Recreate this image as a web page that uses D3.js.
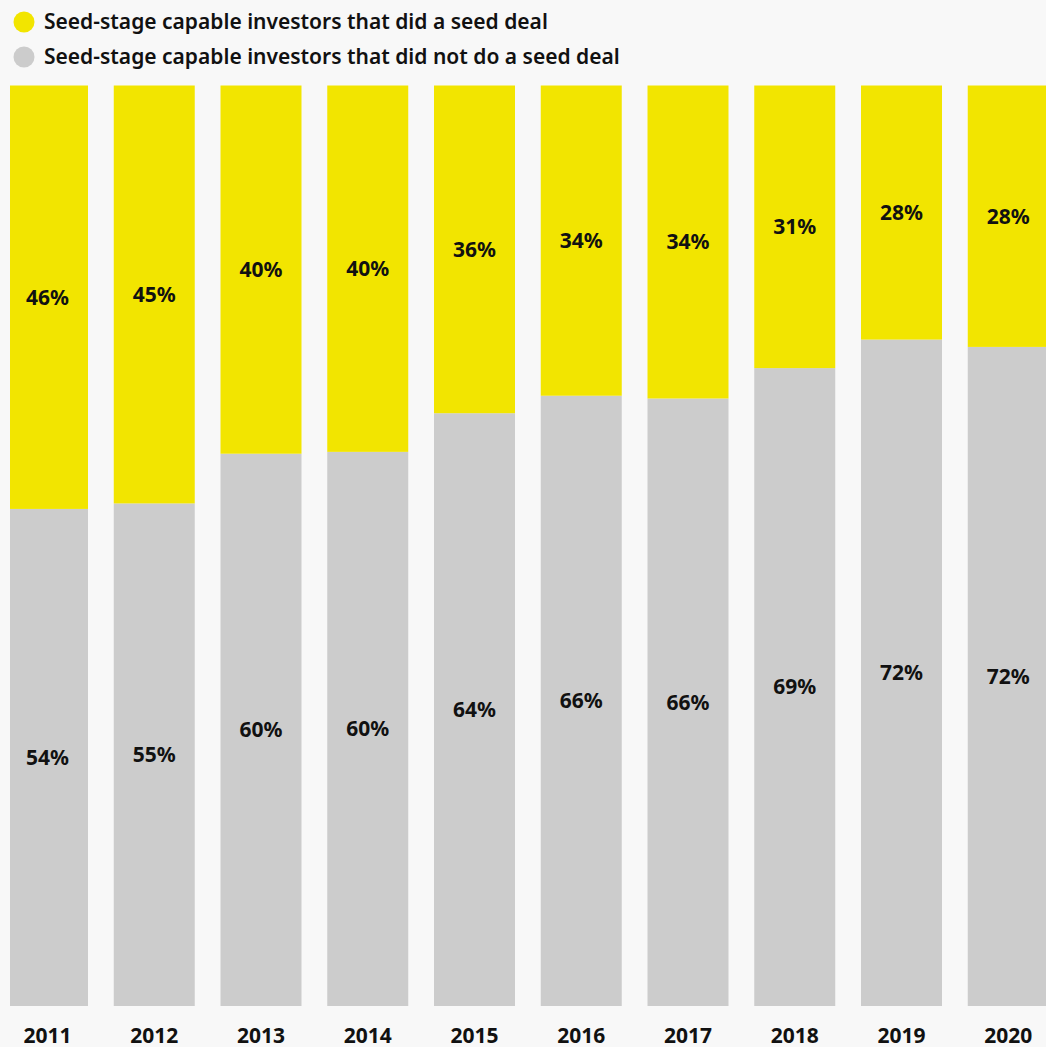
<!DOCTYPE html>
<html>
<head>
<meta charset="utf-8">
<script src="https://cdn.jsdelivr.net/npm/d3@7"></script>
<style>
  html, body { margin: 0; padding: 0; background: #f8f8f8; }
  svg { display: block; font-family: "Noto Sans", "Open Sans", sans-serif; }
</style>
</head>
<body>
<div id="chart"></div>
<script>
const years = ["2011", "2012", "2013", "2014", "2015", "2016", "2017", "2018", "2019", "2020"];
// shares (labels show them rounded)
const didSeed = [46.0, 45.4, 40.0, 39.8, 35.6, 33.7, 34.0, 30.7, 27.6, 28.4];
const didNotSeed = [54.0, 54.6, 60.0, 60.2, 64.4, 66.3, 66.0, 69.3, 72.4, 71.6];
const seriesNames = [
  "Seed-stage capable investors that did a seed deal",
  "Seed-stage capable investors that did not do a seed deal"
];

const width = 1046, height = 1047;
const yellow = "#f2e500", grey = "#cccccc", ink = "#111111";

const svg = d3.select("#chart").append("svg")
  .attr("width", width)
  .attr("height", height);

svg.append("rect").attr("width", width).attr("height", height).attr("fill", "#f8f8f8");

// legend
const legend = svg.append("g");
[yellow, grey].forEach((c, i) => {
  const g = legend.append("g").attr("transform", `translate(0,${22 + i * 35})`);
  g.append("circle").attr("cx", 24).attr("cy", 0).attr("r", 10.5).attr("fill", c);
  g.append("text")
    .attr("x", 44)
    .attr("y", 7)
    .attr("fill", ink)
    .style("font-size", "21px")
    .style("font-weight", 600)
    .text(seriesNames[i]);
});

const x = d3.scaleBand()
  .domain(years)
  .range([7, 1048.75])
  .paddingInner(0.2412)
  .paddingOuter(0);

const y = d3.scaleLinear().domain([0, 100]).range([1006, 85.5]);

svg.append("clipPath").attr("id", "plot-clip")
  .append("rect").attr("x", 10).attr("y", 0).attr("width", width - 10).attr("height", height);

const rows = years.map((yr, i) => ({ year: yr, no: didNotSeed[i], yes: didSeed[i] }));
const stacked = d3.stack().keys(["no", "yes"])(rows);

const plot = svg.append("g").attr("clip-path", "url(#plot-clip)");

plot.selectAll(".layer")
  .data(stacked)
  .join("g")
  .attr("class", "layer")
  .attr("fill", d => d.key === "yes" ? yellow : grey)
  .selectAll("rect")
  .data(d => d)
  .join("rect")
  .attr("x", d => x(d.data.year))
  .attr("width", x.bandwidth())
  .attr("y", d => y(d[1]))
  .attr("height", d => y(d[0]) - y(d[1]));

// value labels, centred in each segment
stacked.forEach(layer => {
  svg.append("g").selectAll("text")
    .data(layer)
    .join("text")
    .attr("x", d => x(d.data.year) + x.bandwidth() / 2)
    .attr("y", d => (y(d[0]) + y(d[1])) / 2)
    .attr("dy", "0.35em")
    .attr("text-anchor", "middle")
    .attr("fill", ink)
    .style("font-size", "21px")
    .style("font-weight", 700)
    .text(d => `${Math.round(d[1] - d[0])}%`);
});

// x axis labels
svg.append("g").selectAll("text")
  .data(years)
  .join("text")
  .attr("x", d => x(d) + x.bandwidth() / 2)
  .attr("y", 1043)
  .attr("text-anchor", "middle")
  .attr("fill", ink)
  .style("font-size", "21px")
  .style("font-weight", 700)
  .text(d => d);
</script>
</body>
</html>
